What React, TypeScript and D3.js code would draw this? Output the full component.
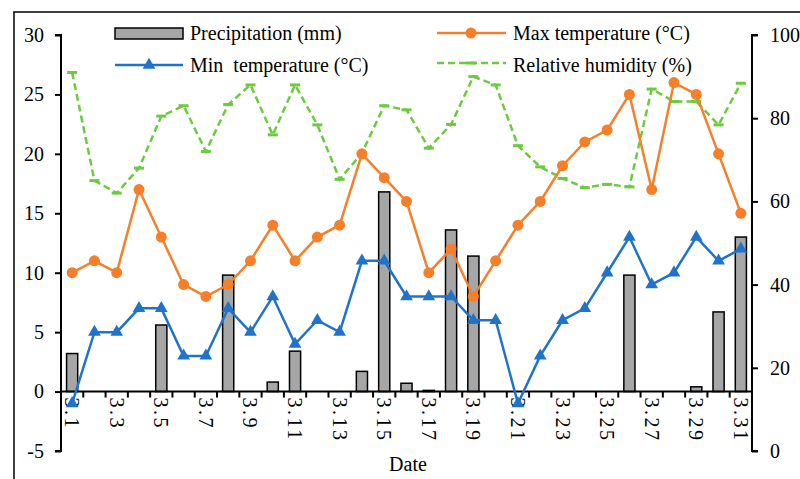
import React, { useEffect, useRef } from 'react';
import * as d3 from 'd3';

const days = d3.range(1, 32).map(d => `3.${d}`);
const precipitation = [3.2, 0, 0, 0, 5.6, 0, 0, 9.8, 0, 0.8, 3.4, 0, 0, 1.7, 16.8, 0.7, 0.1, 13.6, 11.4, 0, 0, 0, 0, 0, 0, 9.8, 0, 0, 0.4, 6.7, 13.0];
const maxTemp = [10, 11, 10, 17, 13, 9, 8, 9, 11, 14, 11, 13, 14, 20, 18, 16, 10, 12, 8, 11, 14, 16, 19, 21, 22, 25, 17, 26, 25, 20, 15];
const minTemp = [-1, 5, 5, 7, 7, 3, 3, 7, 5, 8, 4, 6, 5, 11, 11, 8, 8, 8, 6, 6, -1, 3, 6, 7, 10, 13, 9, 10, 13, 11, 12];
const humidity = [91, 65, 62, 68, 80.5, 83, 72, 83.3, 88, 76, 88, 78.4, 65.3, 71.6, 83, 82, 72.8, 78.5, 90, 88, 73.4, 68.3, 65.5, 63.3, 64.1, 63.5, 87, 84, 84, 78.4, 88.4];
const leftTicks = [-5, 0, 5, 10, 15, 20, 25, 30];
const rightTicks = [0, 20, 40, 60, 80, 100];

const FONT = '"Liberation Serif", "Times New Roman", serif';
const GRAY = '#a6a6a6';
const ORANGE = '#f67f2a';
const BLUE = '#1f74c9';
const GREEN = '#6bcb3f';

const App: React.FC = () => {
    const ref = useRef<SVGSVGElement>(null);

    useEffect(() => {
        const svg = d3.select(ref.current);
        svg.selectAll('*').remove();

        const left = 61, right = 752, top = 35, bottom = 451;

        const x = d3.scaleBand<string>().domain(days).range([left, right]);
        const yL = d3.scaleLinear().domain([-5, 30]).range([bottom, top]);
        const yR = d3.scaleLinear().domain([0, 100]).range([bottom, top]);
        const cx = (i: number) => (x(days[i]) as number) + x.bandwidth() / 2;

        // cadre
        svg.append('path')
            .attr('d', 'M14,479 V12 H800')
            .attr('fill', 'none')
            .attr('stroke', '#000')
            .attr('stroke-width', 1.5);

        // barres
        const bw = x.bandwidth() * 0.5;
        const bars = svg.append('g');
        precipitation.forEach((v, i) => {
            if (v <= 0) return;
            bars.append('rect')
                .attr('x', cx(i) - bw / 2)
                .attr('y', yL(v))
                .attr('width', bw)
                .attr('height', yL(0) - yL(v))
                .attr('fill', GRAY)
                .attr('stroke', '#000')
                .attr('stroke-width', 1.5);
        });

        // axe x
        svg.append('line')
            .attr('x1', left).attr('x2', right)
            .attr('y1', yL(0)).attr('y2', yL(0))
            .attr('stroke', '#000').attr('stroke-width', 2);
        svg.append('g').selectAll('line')
            .data(d3.range(0, days.length + 1))
            .enter()
            .append('line')
            .attr('x1', i => left + i * x.bandwidth())
            .attr('x2', i => left + i * x.bandwidth())
            .attr('y1', yL(0))
            .attr('y2', yL(0) + 6)
            .attr('stroke', '#000')
            .attr('stroke-width', 2);
        svg.append('g').selectAll('text')
            .data(days.filter((_, i) => i % 2 === 0))
            .enter()
            .append('text')
            .attr('transform', d => `translate(${(x(d) as number) + x.bandwidth() / 2},${yL(0) + 6}) rotate(90)`)
            .attr('dy', '0.35em')
            .attr('text-anchor', 'start')
            .style('font-family', FONT)
            .style('font-size', '20px')
            .style('letter-spacing', '2.5px')
            .text(d => d);

        // axe gauche
        const gL = svg.append('g')
            .attr('transform', `translate(${left},0)`)
            .call(d3.axisLeft(yL).tickValues(leftTicks).tickSize(6).tickPadding(11).tickFormat(d => String(d)));
        gL.select('.domain').attr('stroke-width', 2).attr('d', `M-6,${top}H0V${bottom}H-6`);
        gL.selectAll('line').attr('stroke-width', 2);
        gL.selectAll('text').style('font-family', FONT).style('font-size', '20px');

        // axe droit
        const gR = svg.append('g')
            .attr('transform', `translate(${right},0)`)
            .call(d3.axisRight(yR).tickValues(rightTicks).tickSize(6).tickPadding(12));
        gR.select('.domain').attr('stroke-width', 2).attr('d', `M6,${top}H0V${bottom}H6`);
        gR.selectAll('line').attr('stroke-width', 2);
        gR.selectAll('text').style('font-family', FONT).style('font-size', '20px');

        // humidité
        const lineR = d3.line<number>().x((_, i) => cx(i)).y(d => yR(d));
        svg.append('path')
            .attr('d', lineR(humidity))
            .attr('fill', 'none')
            .attr('stroke', GREEN)
            .attr('stroke-width', 2.5)
            .attr('stroke-dasharray', '7,4');
        svg.append('g').selectAll('line')
            .data(humidity)
            .enter()
            .append('line')
            .attr('x1', (_, i) => cx(i) - 5)
            .attr('x2', (_, i) => cx(i) + 5)
            .attr('y1', d => yR(d))
            .attr('y2', d => yR(d))
            .attr('stroke', GREEN)
            .attr('stroke-width', 3);

        // température max
        const lineL = d3.line<number>().x((_, i) => cx(i)).y(d => yL(d));
        svg.append('path')
            .attr('d', lineL(maxTemp))
            .attr('fill', 'none')
            .attr('stroke', ORANGE)
            .attr('stroke-width', 2.5);
        svg.append('g').selectAll('circle')
            .data(maxTemp)
            .enter()
            .append('circle')
            .attr('cx', (_, i) => cx(i))
            .attr('cy', d => yL(d))
            .attr('r', 5.5)
            .attr('fill', ORANGE);

        // température min
        const tri = d3.symbol().type(d3.symbolTriangle).size(70);
        svg.append('path')
            .attr('d', lineL(minTemp))
            .attr('fill', 'none')
            .attr('stroke', BLUE)
            .attr('stroke-width', 2.5);
        svg.append('g').selectAll('path')
            .data(minTemp)
            .enter()
            .append('path')
            .attr('d', tri)
            .attr('transform', (d, i) => `translate(${cx(i)},${yL(d)})`)
            .attr('fill', BLUE);

        // légende
        const legend = svg.append('g')
            .style('font-family', FONT)
            .style('font-size', '20px');
        legend.append('rect')
            .attr('x', 115).attr('y', 28).attr('width', 68).attr('height', 11)
            .attr('fill', GRAY).attr('stroke', '#000').attr('stroke-width', 1.5);
        legend.append('text').attr('x', 190).attr('y', 40).text('Precipitation (mm)');

        legend.append('line')
            .attr('x1', 115).attr('x2', 183).attr('y1', 65).attr('y2', 65)
            .attr('stroke', BLUE).attr('stroke-width', 2.5);
        legend.append('path').attr('d', tri).attr('transform', 'translate(149,65)').attr('fill', BLUE);
        legend.append('text').attr('x', 190).attr('y', 72).style('white-space', 'pre').text('Min  temperature (°C)');

        legend.append('line')
            .attr('x1', 437).attr('x2', 506).attr('y1', 33).attr('y2', 33)
            .attr('stroke', ORANGE).attr('stroke-width', 2.5);
        legend.append('circle').attr('cx', 471).attr('cy', 33).attr('r', 5.5).attr('fill', ORANGE);
        legend.append('text').attr('x', 513).attr('y', 40).text('Max temperature (°C)');

        legend.append('line')
            .attr('x1', 437).attr('x2', 506).attr('y1', 63).attr('y2', 63)
            .attr('stroke', GREEN).attr('stroke-width', 2.5).attr('stroke-dasharray', '7,4');
        legend.append('line')
            .attr('x1', 466).attr('x2', 476).attr('y1', 63).attr('y2', 63)
            .attr('stroke', GREEN).attr('stroke-width', 3);
        legend.append('text').attr('x', 513).attr('y', 72).text('Relative humidity (%)');

        // titre de l'axe x
        svg.append('text')
            .attr('x', 408)
            .attr('y', 471)
            .attr('text-anchor', 'middle')
            .style('font-family', FONT)
            .style('font-size', '20px')
            .text('Date');
    }, []);

    return (
        <svg
            ref={ref}
            width={800}
            height={479}
            style={{ position: 'absolute', left: 0, top: 0, background: '#fff' }}
        />
    );
};

export default App;
